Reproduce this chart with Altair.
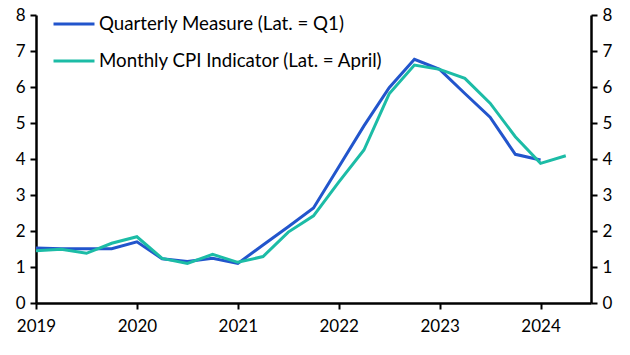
import altair as alt
import pandas as pd

quarters = [2019.0, 2019.25, 2019.5, 2019.75, 2020.0, 2020.25, 2020.5, 2020.75,
            2021.0, 2021.25, 2021.5, 2021.75, 2022.0, 2022.25, 2022.5, 2022.75,
            2023.0, 2023.25, 2023.5, 2023.75, 2024.0, 2024.25]
quarterly_measure = [1.53, 1.51, 1.51, 1.51, 1.70, 1.23, 1.15, 1.24,
                     1.10, 1.61, 2.12, 2.64, 3.78, 4.92, 5.98, 6.77,
                     6.49, 5.82, 5.16, 4.13, 3.97]
monthly_cpi = [1.45, 1.49, 1.38, 1.66, 1.84, 1.24, 1.10, 1.35,
               1.13, 1.29, 1.97, 2.42, 3.36, 4.25, 5.81, 6.61,
               6.49, 6.24, 5.55, 4.62, 3.88, 4.09]
series_names = ["Quarterly Measure (Lat. = Q1)", "Monthly CPI Indicator (Lat. = April)"]
colors = ["#2255CC", "#1CBCA6"]
x_ticks = [2019, 2020, 2021, 2022, 2023, 2024]
y_ticks = [0, 1, 2, 3, 4, 5, 6, 7, 8]

rows = []
for x, v in zip(quarters, quarterly_measure):
    rows.append({"date": x, "value": v, "series": series_names[0]})
for x, v in zip(quarters, monthly_cpi):
    rows.append({"date": x, "value": v, "series": series_names[1]})
df = pd.DataFrame(rows)

FONT = "Lato"
AX = dict(title=None, grid=False, labelFontSize=17, tickSize=6, labelFlush=False,
          domainWidth=2.5, tickWidth=2, domainColor="black",
          tickColor="black", labelColor="black", labelFont=FONT)

x_enc = alt.X("date:Q", scale=alt.Scale(domain=[2019, 2024.5], nice=False),
              axis=alt.Axis(values=x_ticks, format="d", labelPadding=9, **AX))

lines = alt.Chart(df).mark_line(strokeWidth=3).encode(
    x=x_enc,
    y=alt.Y("value:Q", scale=alt.Scale(domain=[0, 8], nice=False),
            axis=alt.Axis(values=y_ticks, orient="left", labelPadding=5, **AX)),
    color=alt.Color("series:N", sort=series_names,
                    scale=alt.Scale(domain=series_names, range=colors),
                    legend=alt.Legend(title=None, orient="none", legendX=16, legendY=-13,
                                      symbolType="stroke", symbolSize=1680,
                                      symbolStrokeWidth=3, labelFontSize=18.7,
                                      labelFont=FONT, labelColor="black",
                                      rowPadding=5, labelOffset=3, labelLimit=400)),
)

right = alt.Chart(df).mark_line(opacity=0).encode(
    x=x_enc,
    y=alt.Y("value:Q", scale=alt.Scale(domain=[0, 8], nice=False),
            axis=alt.Axis(values=y_ticks, orient="right", labelPadding=5, **AX)),
    detail="series:N",
)

chart = alt.layer(lines, right).resolve_scale(y="independent").properties(
    width=555, height=288,
    autosize=alt.AutoSizeParams(type="none"),
    padding={"left": 36, "top": 15, "right": 39, "bottom": 52},
).configure_view(stroke=None)

chart.save("out.html", embed_options={"renderer": "svg", "actions": False})
